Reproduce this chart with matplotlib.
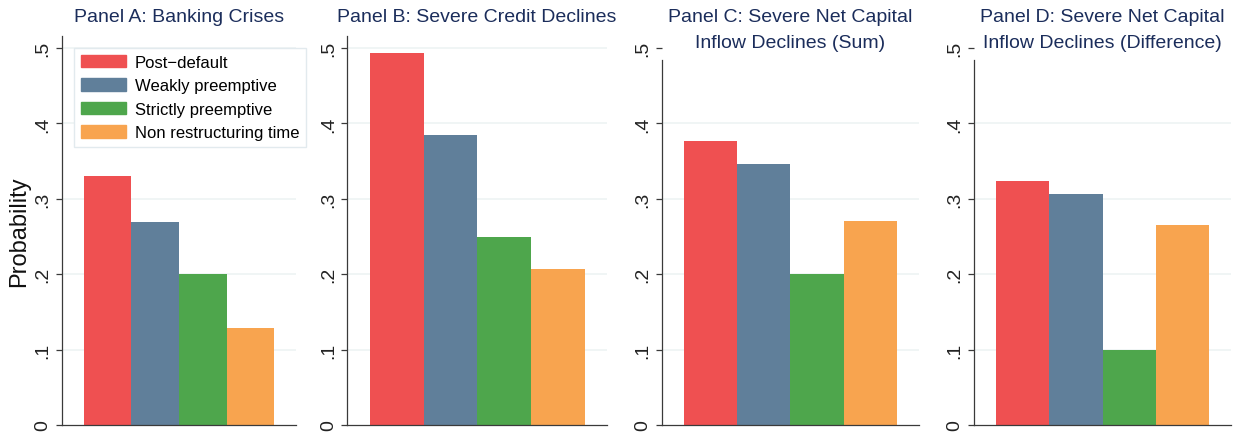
import matplotlib
matplotlib.use("Agg")
import matplotlib.pyplot as plt
import numpy as np

# data
categories = ["Post\u2212default", "Weakly preemptive", "Strictly preemptive", "Non restructuring time"]
colors = ["#ef5051", "#607f9a", "#4ea64c", "#f8a44f"]

titles = [
    ["Panel A: Banking Crises"],
    ["Panel B: Severe Credit Declines"],
    ["Panel C: Severe Net Capital", "Inflow Declines (Sum)"],
    ["Panel D: Severe Net Capital", "Inflow Declines (Difference)"],
]
banking = [0.330, 0.269, 0.200, 0.129]
credit = [0.493, 0.385, 0.250, 0.207]
inflow_sum = [0.376, 0.346, 0.200, 0.271]
inflow_diff = [0.324, 0.307, 0.100, 0.265]
panel_values = [banking, credit, inflow_sum, inflow_diff]

yticks = [0, 0.1, 0.2, 0.3, 0.4, 0.5]
ytick_labels = ["0", ".1", ".2", ".3", ".4", ".5"]

plt.rcParams["font.family"] = ["Liberation Sans", "DejaVu Sans"]

W, H = 1242, 439
fig = plt.figure(figsize=(W / 100, H / 100), dpi=100)

# axes placement in pixels: left, right
ax_px = [(62, 296), (347.3, 607), (661.7, 919), (973.7, 1231.3)]
xlims = [(-0.96, 3.96), (-0.92, 3.91), (-0.92, 3.915), (-0.92, 3.92)]
y_bottom = 426
y_top_lim = 0.516
px_per_unit = 754.0
ax_h = y_top_lim * px_per_unit

title_color = "#1b2d5b"
axis_color = "#3a3a3a"
grid_color = "#edf3f3"

axes = []
for i, vals in enumerate(panel_values):
    l, r = ax_px[i]
    ax = fig.add_axes([l / W, (H - y_bottom) / H, (r - l) / W, ax_h / H])
    axes.append(ax)
    x = np.arange(len(vals))
    ax.bar(x, vals, width=1.0, color=colors, linewidth=0, zorder=2)
    ax.set_xlim(*xlims[i])
    ax.set_ylim(0, y_top_lim)

    ax.spines["top"].set_visible(False)
    ax.spines["right"].set_visible(False)
    for s in ["left", "bottom"]:
        ax.spines[s].set_color(axis_color)
        ax.spines[s].set_linewidth(0.9)

    # C and D have a shorter y axis line
    if i >= 2:
        ax.spines["left"].set_bounds(0, 0.484)
        grid_vals = yticks[1:-1]
    else:
        grid_vals = yticks[1:]
    for g in grid_vals:
        ax.axhline(g, color=grid_color, lw=1.2, zorder=1)

    ax.set_xticks([])
    ax.set_yticks(yticks)
    ax.set_yticklabels(ytick_labels, rotation=90, va="center")
    ax.tick_params(axis="y", length=4, width=0.9, color=axis_color,
                   labelsize=14, labelcolor="#222222", pad=3.5)

    # titles drawn line by line
    for k, line in enumerate(titles[i]):
        yy = (y_bottom - (21.5 + 26 * k)) / ax_h
        ax.text(0.5, yy, line, transform=ax.transAxes, ha="center", va="baseline",
                fontsize=14, color=title_color)

fig.text(19 / W, 1 - 232 / H, "Probability", rotation=90, ha="center", va="center",
         fontsize=17, color="#111111")

handles = [plt.Rectangle((0, 0), 1, 1, color=c) for c in colors]
leg = axes[0].legend(handles, categories, loc="upper left",
                     bbox_to_anchor=(74 / W, 1 - 49 / H), bbox_transform=fig.transFigure,
                     fontsize=12, frameon=True, fancybox=False, framealpha=1,
                     edgecolor="#e2eaee", handlelength=2.7, handleheight=0.8,
                     handletextpad=0.55, labelspacing=0.5, borderpad=0.4,
                     borderaxespad=0)
leg.get_frame().set_linewidth(1.0)
leg.set_zorder(5)

fig.savefig("out.png", dpi=100)
